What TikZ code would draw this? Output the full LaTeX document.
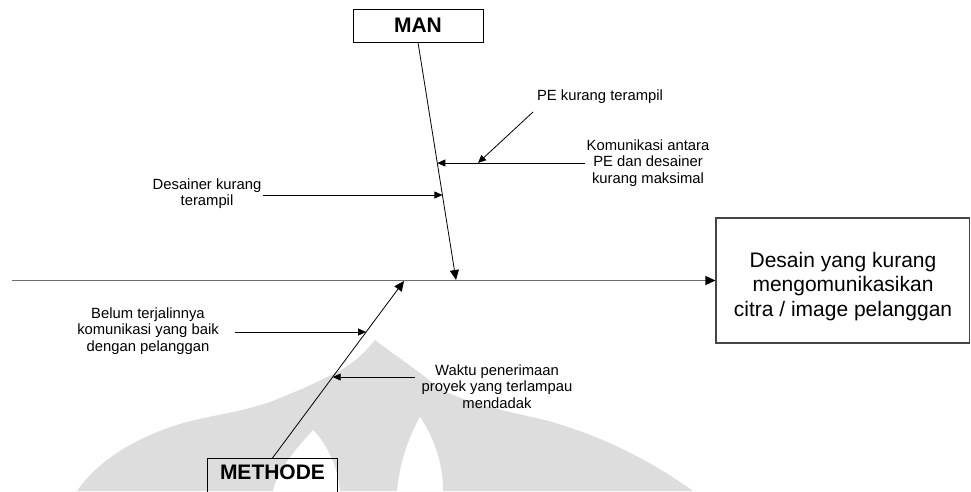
\documentclass[tikz,border=0pt]{standalone}
\usepackage{fontspec}
\setmainfont{Liberation Sans}
\usetikzlibrary{arrows.meta,calc}
\definecolor{wmgray}{RGB}{221,221,221}
\definecolor{axisgray}{RGB}{110,110,110}
\definecolor{boxgray}{RGB}{70,70,70}
\begin{document}
\begin{tikzpicture}[x=1pt,y=-1pt,
  lbl/.style={align=center,inner sep=0pt,font=\fontsize{14.8}{16.5}\selectfont},
  hdr/.style={draw=black,line width=0.8pt,font=\fontsize{21}{24}\selectfont\bfseries,
    minimum width=130pt,inner sep=0pt},
  effect/.style={draw=boxgray,line width=1.1pt,inner sep=0pt,
    minimum width=253.5pt,minimum height=125pt},
  efftext/.style={align=center,inner sep=0pt,font=\fontsize{21}{24.5}\selectfont},
  bone/.style={line width=0.8pt,-{Triangle[length=10pt,width=9pt]}},
  axis/.style={draw=axisgray,line width=1.4pt,
    -{Triangle[length=10pt,width=9pt,color=black]}},
  cause/.style={line width=0.8pt,-{Triangle[length=8pt,width=7pt]}}]
\useasboundingbox (0,0) rectangle (971,491);

% faint emblem in the background
\fill[wmgray] (375,340) .. controls (362,356) and (350,366) .. (333,374)
  .. controls (310,386) and (290,394) .. (270,402)
  .. controls (240,412) and (215,415) .. (195,420)
  .. controls (160,428) and (105,450) .. (77,491) -- (693,491)
  .. controls (650,460) and (600,435) .. (545,420)
  .. controls (500,410) and (455,400) .. (435,385)
  .. controls (415,368) and (390,352) .. (375,340) -- cycle;
\fill[white] (313,430) .. controls (300,445) and (278,468) .. (273,491) -- (340,491)
  .. controls (338,465) and (325,442) .. (313,430) -- cycle;
\fill[white] (420,417) .. controls (410,435) and (400,460) .. (397,491) -- (443,491)
  .. controls (443,460) and (432,435) .. (420,417) -- cycle;

% head and category boxes
\node[effect] (effect) at (842.75,280.5) {};
\node[efftext] (efftxt) at (843,286.5) {Desain yang kurang\\mengomunikasikan\\citra / image pelanggan};
\node[hdr,minimum height=33pt] (man) at (418,25.5) {MAN};
\node[hdr,anchor=north,text height=21.5pt,text depth=20pt] (methode) at (272.5,458) {METHODE};

% main axis
\coordinate (tail) at (12,280.5);
\draw[axis] (tail) -- (effect.west);

% category bones
\coordinate (manhit) at (456,280);
\coordinate (methit) at (404,281);
\draw[bone] (man.south) -- (manhit);
\draw[bone] (methode.north) -- (methit);

% causes on the MAN bone
\node[lbl] (c1) at (600,97) {PE kurang terampil};
\node[lbl] (c2) at (648,163) {Komunikasi antara\\PE dan desainer\\kurang maksimal};
\node[lbl] (c3) at (207,193.5) {Desainer kurang\\terampil};
\coordinate (c1s) at (533,112);
\coordinate (c2s) at (585,163);
\coordinate (c2e) at (437.3,163);
\coordinate (c1e) at (478,163);
\coordinate (c3s) at (263,195);
\coordinate (c3e) at (442.4,195);
\draw[cause] (c1s) -- (c1e);
\draw[cause] (c2s) -- (c2e);
\draw[cause] (c3s) -- (c3e);

% causes on the METHODE bone
\node[lbl] (c4) at (148,331) {Belum terjalinnya\\komunikasi yang baik\\dengan pelanggan};
\node[lbl] (c5) at (497,386.5) {Waktu penerimaan\\proyek yang terlampau\\mendadak};
\coordinate (c4s) at (235,332);
\coordinate (c4e) at (366.1,332);
\coordinate (c5s) at (415,377);
\coordinate (c5e) at (332.7,377);
\draw[cause] (c4s) -- (c4e);
\draw[cause] (c5s) -- (c5e);
\end{tikzpicture}
\end{document}
